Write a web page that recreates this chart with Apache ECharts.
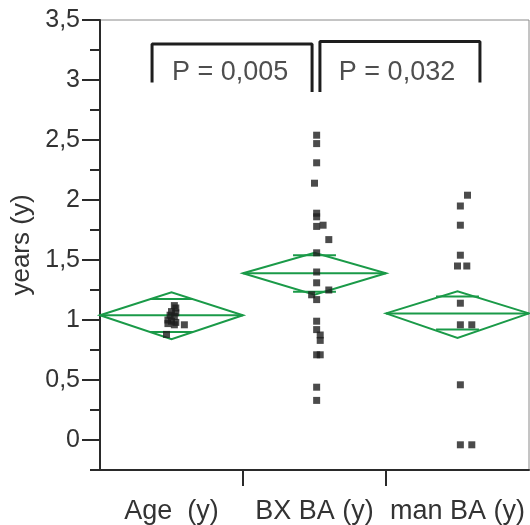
<!DOCTYPE html>
<html><head><meta charset="utf-8">
<script src="https://cdn.jsdelivr.net/npm/echarts@6/dist/echarts.min.js"></script>
<style>html,body{margin:0;padding:0;background:#fff}#c{width:530px;height:525px}</style>
</head><body><div id="c"></div>
<script>
const categories = ['Age  (y)', 'BX BA (y)', 'man BA (y)'];
const yTickLabels = [0, 0.5, 1, 1.5, 2, 2.5, 3, 3.5];

const ageValues = [1.12, 1.10, 1.07, 1.06, 1.04, 1.03, 1.00, 0.99, 0.98, 0.97, 0.96, 0.96, 0.88];
const ageJitter = [0.02, 0.03, 0, 0.03, -0.01, 0.02, -0.025, 0, 0.03, -0.025, 0.02, 0.09, -0.035];

const bxValues = [2.54, 2.47, 2.31, 2.14, 1.89, 1.86, 1.78, 1.79, 1.67, 1.56, 1.40, 1.31, 1.25, 1.21, 1.17, 0.99, 0.92, 0.875, 0.83, 0.71, 0.71, 0.44, 0.33];
const bxJitter = [0.015, 0.015, 0.015, 0, 0.015, 0.015, 0.015, 0.06, 0.1, 0.015, 0.015, 0.015, 0.1, -0.02, 0.015, 0.015, 0.015, 0.04, 0.04, 0.015, 0.04, 0.015, 0.015];

const manValues = [2.04, 1.95, 1.79, 1.54, 1.45, 1.45, 1.14, 0.96, 0.96, 0.46, -0.04, -0.04];
const manJitter = [0.07, 0.02, 0.02, 0.02, 0.0, 0.065, 0.02, 0.02, 0.1, 0.02, 0.02, 0.1];

const diamondMean  = [1.04, 1.39, 1.055];
const diamondUpper = [1.23, 1.56, 1.24];
const diamondLower = [0.84, 1.21, 0.85];
const overlapHigh  = [1.175, 1.54, 1.195];
const overlapLow   = [0.90, 1.235, 0.92];

const bracket1 = [[-0.136, 2.98], [-0.136, 3.30], [0.983, 3.30], [0.983, 2.90]];
const bracket2 = [[1.038, 2.90], [1.038, 3.32], [2.157, 3.32], [2.157, 2.98]];
const pTexts = ['P = 0,005', 'P = 0,032'];
const pPositions = [[0.41, 3.06], [1.577, 3.06]];

const groups = [[ageValues, ageJitter], [bxValues, bxJitter], [manValues, manJitter]];
const points = [];
groups.forEach(function (g, i) {
  g[0].forEach(function (v, k) { points.push([i + g[1][k], v]); });
});
const diamonds = diamondMean.map(function (m, i) {
  return [i, m, diamondUpper[i], diamondLower[i], overlapHigh[i], overlapLow[i]];
});

const FONT = 'Liberation Sans, Arial, sans-serif';
const GREEN = '#1a9a48';
const DARK = '#2a2a2a';

const chart = echarts.init(document.getElementById('c'));
chart.setOption({
  animation: false,
  grid: { left: 100, right: 1, top: 20, bottom: 55, show: true, borderColor: '#8a8a8a', borderWidth: 1,
          containLabel: false, outerBoundsMode: 'none' },
  xAxis: {
    type: 'value', min: -0.5, max: 2.5,
    splitLine: { show: false },
    axisLine: { show: true, onZero: false, lineStyle: { color: DARK, width: 2 } },
    axisTick: { show: true, customValues: [0.5, 1.5], length: 16, lineStyle: { color: DARK, width: 2 } },
    axisLabel: {
      customValues: [0, 1, 2],
      formatter: function (v) { return categories[Math.round(v)]; },
      fontSize: 27, color: '#333', margin: 28, fontFamily: FONT
    }
  },
  yAxis: [{
    type: 'value', min: -0.25, max: 3.5, interval: 0.25,
    splitLine: { show: false },
    axisLine: { show: true, onZero: false, lineStyle: { color: DARK, width: 2 } },
    axisTick: { show: true, length: 10, lineStyle: { color: DARK, width: 2 } },
    axisLabel: {
      customValues: yTickLabels,
      formatter: function (v) { return String(v).replace('.', ','); },
      fontSize: 25, color: '#333', margin: 20, fontFamily: FONT
    },
    name: 'years (y)', nameLocation: 'middle', nameGap: 62, nameRotate: 90,
    nameTextStyle: { fontSize: 26, color: '#333', fontFamily: FONT }
  }, {
    type: 'value', min: -0.25, max: 3.5, position: 'left', offset: 0,
    splitLine: { show: false },
    axisLine: { show: false, onZero: false },
    axisTick: { show: true, customValues: yTickLabels, length: 18, lineStyle: { color: DARK, width: 2 } },
    axisLabel: { show: false }
  }],
  series: [{
    type: 'custom', z: 2,
    data: diamonds,
    renderItem: function (params, api) {
      const i = api.value(0);
      const mean = api.value(1), up = api.value(2), lo = api.value(3), mh = api.value(4), ml = api.value(5);
      const L = api.coord([i - 0.5, mean]), R = api.coord([i + 0.5, mean]);
      const T = api.coord([i, up]), B = api.coord([i, lo]);
      const mw = 0.15;
      const a1 = api.coord([i - mw, mh]), a2 = api.coord([i + mw, mh]);
      const b1 = api.coord([i - mw, ml]), b2 = api.coord([i + mw, ml]);
      const st = { stroke: GREEN, lineWidth: 2, fill: null };
      return {
        type: 'group', children: [
          { type: 'polygon', shape: { points: [L, T, R, B] }, style: st },
          { type: 'line', shape: { x1: L[0], y1: L[1], x2: R[0], y2: R[1] }, style: st },
          { type: 'line', shape: { x1: a1[0], y1: a1[1], x2: a2[0], y2: a2[1] }, style: st },
          { type: 'line', shape: { x1: b1[0], y1: b1[1], x2: b2[0], y2: b2[1] }, style: st }
        ]
      };
    }
  }, {
    type: 'scatter', z: 5, data: points, symbol: 'rect', symbolSize: 7,
    itemStyle: { color: '#1e1e1e' }
  }, {
    type: 'line', z: 4, data: bracket1, symbol: 'none',
    lineStyle: { color: '#1e1e1e', width: 3 }
  }, {
    type: 'line', z: 4, data: bracket2, symbol: 'none',
    lineStyle: { color: '#1e1e1e', width: 3 }
  }, {
    type: 'scatter', z: 6, symbolSize: 0,
    data: pPositions.map(function (p, i) { return { value: p, name: pTexts[i] }; }),
    label: {
      show: true, position: 'inside', formatter: function (p) { return p.name; },
      fontSize: 27, color: '#222', fontFamily: FONT
    }
  }]
});
</script></body></html>
